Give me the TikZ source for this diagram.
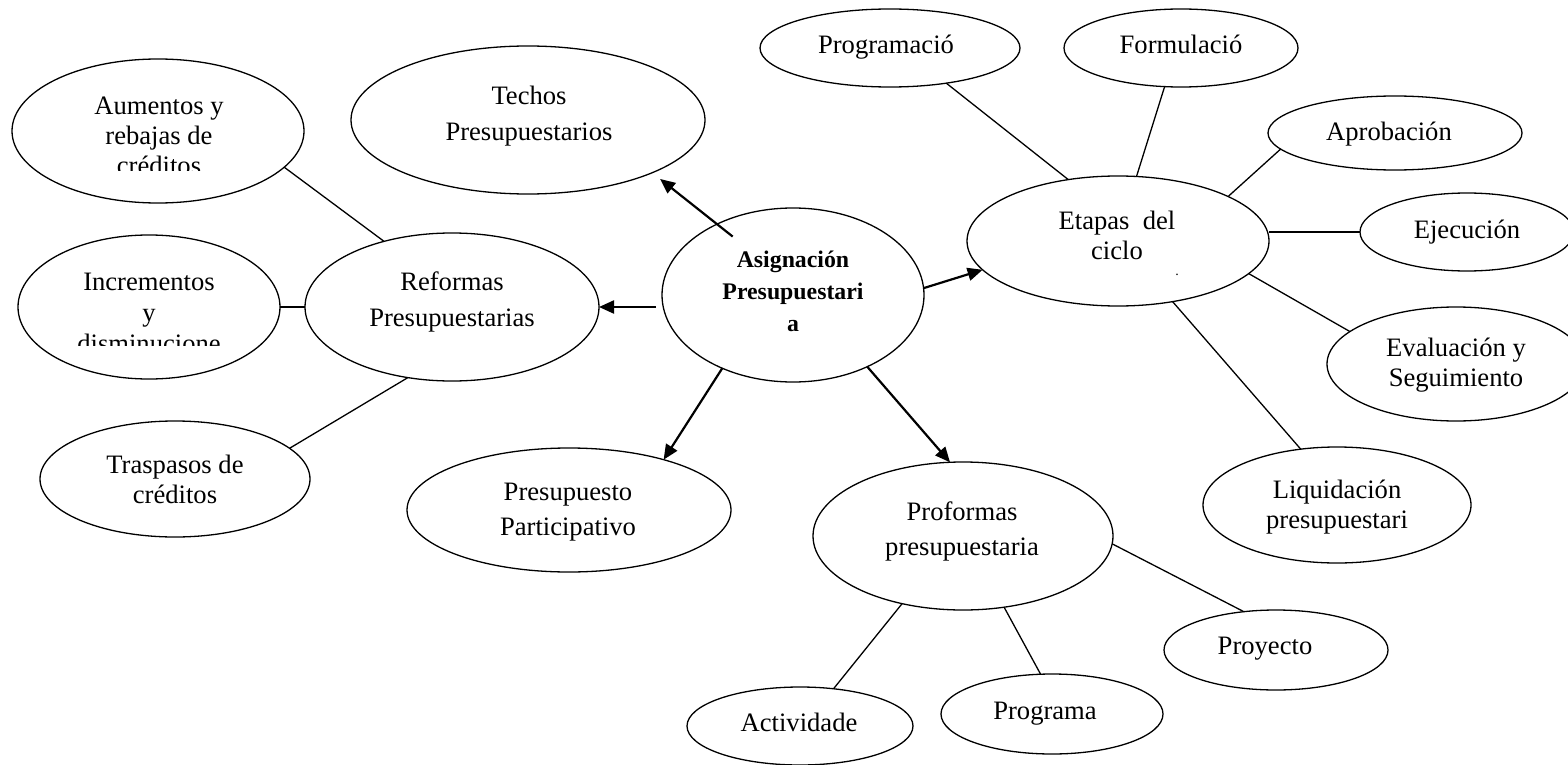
\documentclass[tikz,border=0pt]{standalone}
\usepackage{fontspec}
\setmainfont{Liberation Serif}
\usetikzlibrary{shapes.geometric,arrows.meta}
\begin{document}
\begin{tikzpicture}[x=0.5pt,y=-0.5pt,
  ell/.style={ellipse,draw,line width=0.65pt,inner sep=0pt,outer sep=0pt},
  txt/.style={align=center,inner sep=0pt,font=\fontsize{13.3}{15}\selectfont},
  wide/.style={font=\fontsize{13.3}{18}\selectfont},
  mid/.style={font=\fontsize{13.3}{17.5}\selectfont},
  incr/.style={font=\fontsize{13.3}{15.6}\selectfont},
  bld/.style={font=\fontsize{11.9}{16}\selectfont\bfseries},
  link/.style={line width=0.65pt},
  arr/.style={line width=1.1pt,-{Triangle[length=7.5pt,width=6.5pt]}}]
\useasboundingbox (0,0) rectangle (1568,765);
\clip (0,0) rectangle (1568,765);

% ellipses
\node[ell,minimum width=146pt,minimum height=72pt] (A) at (158,131) {};
\node[ell,minimum width=177pt,minimum height=74pt] (T) at (528,120) {};
\node[ell,minimum width=131pt,minimum height=72pt] (I) at (149,307) {};
\node[ell,minimum width=147pt,minimum height=74pt] (R) at (452,307) {};
\node[ell,minimum width=135pt,minimum height=58pt] (Tr) at (175,479) {};
\node[ell,minimum width=131pt,minimum height=87pt] (As) at (793,295) {};
\node[ell,minimum width=130pt,minimum height=39pt] (Pg) at (890,48) {};
\node[ell,minimum width=117pt,minimum height=39pt] (F) at (1181,48) {};
\node[ell,minimum width=127pt,minimum height=37pt] (Ap) at (1395,133) {};
\node[ell,minimum width=107pt,minimum height=39pt] (E) at (1467,232) {};
\node[ell,minimum width=129pt,minimum height=57pt] (Ev) at (1456,364) {};
\node[ell,minimum width=151pt,minimum height=65pt] (Et) at (1118,241) {};
\node[ell,minimum width=134pt,minimum height=58pt] (L) at (1337,505) {};
\node[ell,minimum width=162pt,minimum height=62pt] (P) at (569,510) {};
\node[ell,minimum width=150pt,minimum height=74pt] (Pf) at (963,536) {};
\node[ell,minimum width=112pt,minimum height=40pt] (Py) at (1276,650) {};
\node[ell,minimum width=111pt,minimum height=40pt] (Pa) at (1052,714) {};
\node[ell,minimum width=113pt,minimum height=39pt] (Ac) at (800,726) {};

% texts
\begin{scope}
\clip (0,0) rectangle (330,170);
\node[txt] (A-t) at (159,138) {\strut Aumentos y\\\strut rebajas de\\\strut créditos};
\end{scope}
\node[txt,wide] (T-t) at (529,115) {\strut Techos\\\strut Presupuestarios};
\begin{scope}
\clip (0,200) rectangle (300,345);
\node[txt,incr] (I-t) at (149,315) {\strut Incrementos\\\strut y\\\strut disminucione};
\end{scope}
\node[txt,wide] (R-t) at (452,301) {\strut Reformas\\\strut Presupuestarias};
\node[txt] (Tr-t) at (175,482) {\strut Traspasos de\\\strut créditos};
\node[txt,bld] (As-t) at (793,293.5) {\strut Asignación\\\strut Presupuestari\\\strut a};
\node[txt] (Pg-t) at (886,48) {\strut Programació};
\node[txt] (F-t) at (1181,48) {\strut Formulació};
\node[txt] (Ap-t) at (1389,135) {\strut Aprobación};
\node[txt] (E-t) at (1467,232) {\strut Ejecución};
\node[txt] (Et-t) at (1117,238) {\strut Etapas\ \ del\\\strut ciclo};
\node[inner sep=0pt,font=\fontsize{7}{8}\selectfont] (Et-d) at (1177,275) {.};
\node[txt] (Ev-t) at (1456,365) {\strut Evaluación y\\\strut Seguimiento};
\node[txt] (L-t) at (1337,507) {\strut Liquidación\\\strut presupuestari};
\node[txt,mid] (P-t) at (568,510.5) {\strut Presupuesto\\\strut Participativo};
\node[txt,mid] (Pf-t) at (962,530.5) {\strut Proformas\\\strut presupuestaria};
\node[txt] (Py-t) at (1265,648) {\strut Proyecto};
\node[txt] (Pa-t) at (1045,713) {\strut Programa};
\node[txt] (Ac-t) at (799,725) {\strut Actividade};

% plain links
\draw[link] (A.-16.6) -- (R.136.2);
\draw[link] (I.east) -- (R.west);
\draw[link] (R.238.5) -- (Tr.15.3);
\draw[link] (Pg.-32.2) -- (Et.129.6);
\draw[link] (F.-113.6) -- (Et.74.3);
\draw[link] (Ap.188.8) -- (Et.22.7);
\draw[link] (Et.east |- E.west) -- (E.west);
\draw[link] (Et.-14) -- (Ev.163);
\draw[link] (Et.-48.2) -- (L.123.2);
\draw[link] (Pf.-3.4) -- (Py.130.4);
\draw[link] (Pf.-60.75) -- (Pa.106.7);
\draw[link] (Pf.228.3) -- (Ac.48.1);

% arrows
\draw[arr,shorten <=-10pt,shorten >=5pt] (As.137.9) -- (T.-23.2);
\draw[arr,shorten <=3pt] (As.west |- R.east) -- (R.east);
\draw[arr] (As.3) -- (Et.192);
\draw[arr] (As.226.6) -- (P.28.3);
\draw[arr] (As.-44.2) -- (Pf.100.7);
\end{tikzpicture}
\end{document}
